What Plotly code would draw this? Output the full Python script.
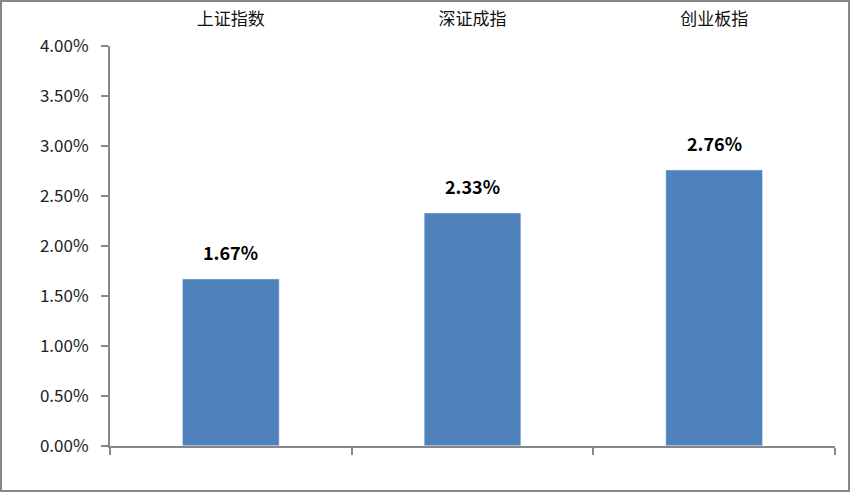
import plotly.graph_objects as go

categories = ["上证指数", "深证成指", "创业板指"]
values = [1.67, 2.33, 2.76]
labels = ["1.67%", "2.33%", "2.76%"]
y_ticks = [0, 0.5, 1.0, 1.5, 2.0, 2.5, 3.0, 3.5, 4.0]
y_tick_text = ["0.00%", "0.50%", "1.00%", "1.50%", "2.00%", "2.50%", "3.00%", "3.50%", "4.00%"]

W, H = 851, 493
L, R, T, B = 110, 16, 46, 47
pw, ph = W - L - R, H - T - B

font = "Noto Sans CJK SC, Noto Sans, sans-serif"
axis_col = "#878787"

fig = go.Figure()

fig.add_trace(go.Bar(
    x=categories, y=values,
    marker_color="#4F81BD", width=0.4,
    showlegend=False,
))
# invisible trace for category labels on top
fig.add_trace(go.Bar(
    x=categories, y=[0, 0, 0], xaxis="x2",
    marker_color="rgba(0,0,0,0)", showlegend=False, hoverinfo="skip",
))

for c, v, t in zip(categories, values, labels):
    fig.add_annotation(
        x=c, y=v, text="<b>" + t + "</b>", showarrow=False,
        yanchor="bottom", yshift=12,
        font=dict(size=18, color="#000000", family=font),
    )

# outer frame
fig.add_shape(
    type="rect", xref="paper", yref="paper",
    x0=(1 - L) / pw, x1=(W - 2 - L) / pw,
    y0=-(H - 2 - (T + ph)) / ph, y1=(T + ph - 1) / ph,
    line=dict(color=axis_col, width=2), fillcolor="rgba(0,0,0,0)",
    layer="below",
)

fig.update_layout(
    width=W, height=H,
    margin=dict(l=L, r=R, t=T, b=B, autoexpand=False),
    plot_bgcolor="white", paper_bgcolor="white",
    font=dict(family=font, size=16, color="#222222"),
    bargap=0.6,
    xaxis=dict(
        showline=True, linecolor=axis_col, linewidth=2,
        ticks="outside", tickson="boundaries", ticklen=7,
        tickcolor=axis_col, tickwidth=2,
        showticklabels=False, showgrid=False,
    ),
    xaxis2=dict(
        overlaying="x", side="top", matches="x",
        showline=False, ticks="", showgrid=False,
        tickfont=dict(size=17, color="#111111"),
        ticklabelstandoff=17, automargin=False,
    ),
    yaxis=dict(
        range=[0, 4.0], tickvals=y_ticks, ticktext=y_tick_text,
        showline=True, linecolor=axis_col, linewidth=2,
        ticks="outside", ticklen=7, tickcolor=axis_col, tickwidth=2,
        showgrid=False, zeroline=False,
        tickfont=dict(size=17, color="#222222"),
        ticklabelstandoff=9, automargin=False,
    ),
)

fig.write_html(
    "out.html",
    config={"displayModeBar": False},
    post_script="document.body.style.margin='0';",
)
